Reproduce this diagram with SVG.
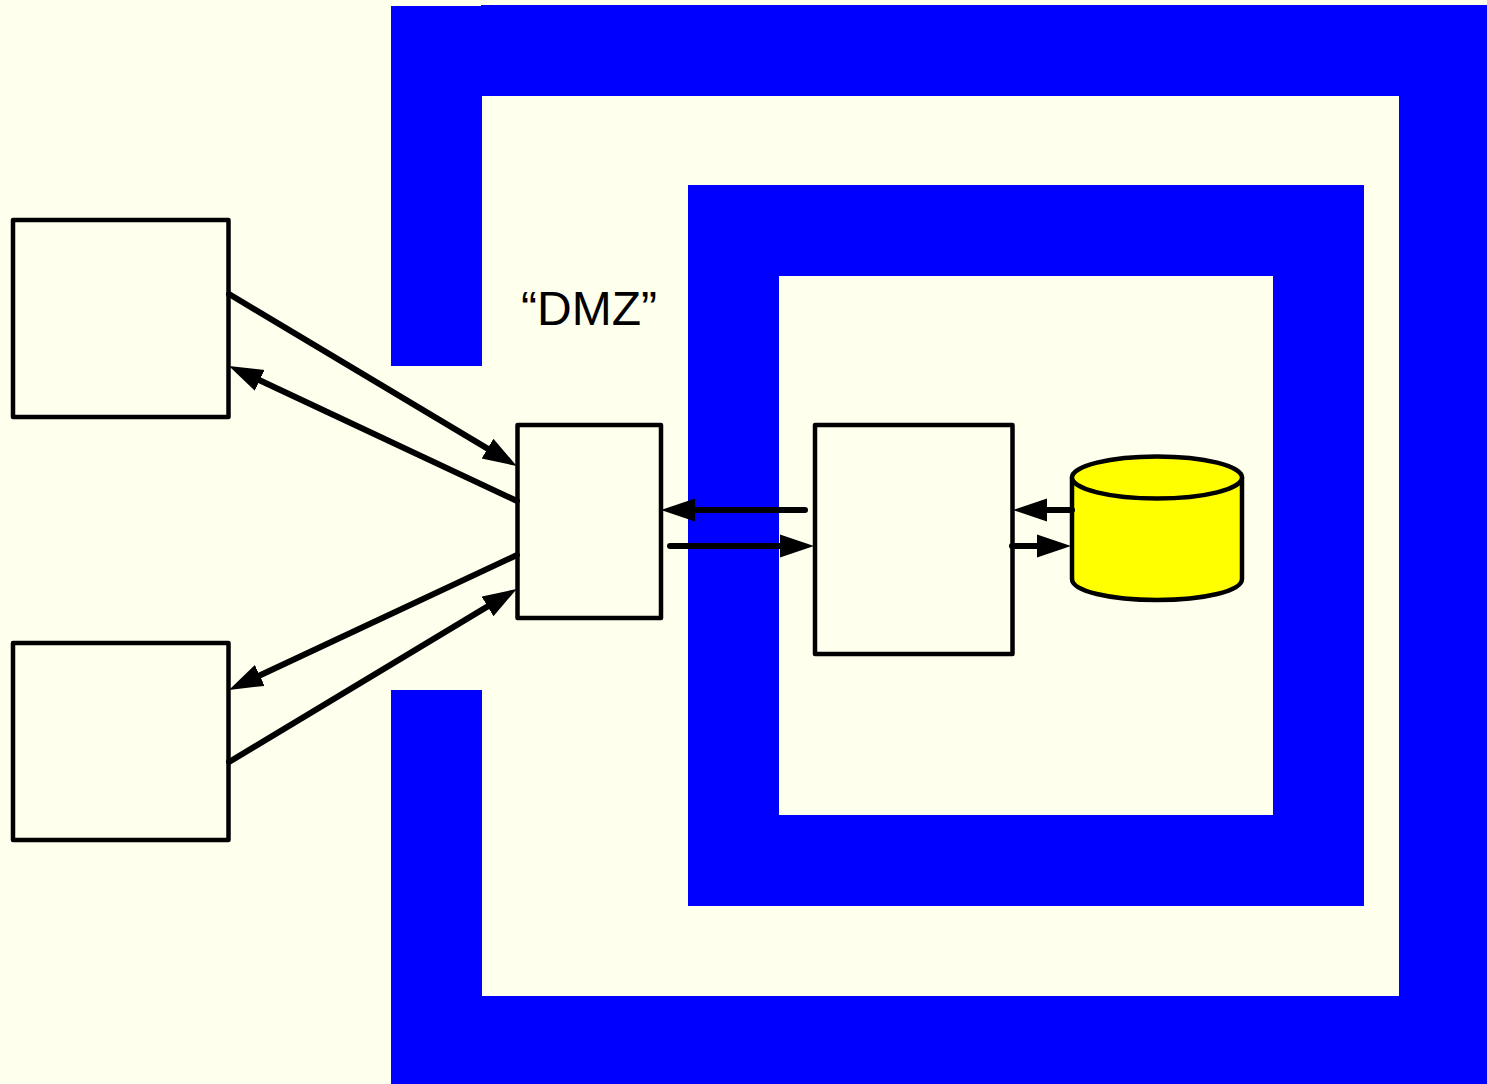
<svg xmlns="http://www.w3.org/2000/svg" width="1487" height="1084" viewBox="0 0 1487 1084">
  <defs>
    <style>
      .zone { fill: #0000ff; }
      .box { fill: #ffffee; stroke: #000; stroke-width: 4.500; stroke-linejoin: round; }
      .db { fill: #ffff00; stroke: #000; stroke-width: 4.500; stroke-linejoin: round; }
      .conn { fill: none; stroke: #000; stroke-width: 6; stroke-linecap: round; marker-end: url(#arrow); }
      .label { font-family: "Liberation Sans", Arial, sans-serif; font-size: 48px; fill: #000; }
    </style>
    <marker id="arrow" markerUnits="userSpaceOnUse" markerWidth="35" markerHeight="25" refX="22" refY="12" orient="auto">
      <path d="M0,0.500 L34,12 L0,23.500 Z" fill="#000"/>
    </marker>
  </defs>
  <rect width="1487" height="1084" fill="#ffffee"/>
  <g id="outer-zone">
    <path class="zone" d="M391,6 H481 V5 H1487 V1084 H391 V690 H482 V996 H1399 V96 H482 V366 H391 Z"/>
  </g>
  <g id="inner-zone">
    <path class="zone" fill-rule="evenodd" d="M688,185 H1364 V906 H688 Z M779,276 V815 H1273 V276 Z"/>
  </g>
  <g id="client-top"><rect class="box" x="13" y="220" width="215.500" height="197"/></g>
  <g id="client-bottom"><rect class="box" x="13" y="643" width="215.500" height="197"/></g>
  <g id="dmz-server"><rect class="box" x="517.500" y="425" width="143.500" height="193"/></g>
  <g id="app-server"><rect class="box" x="815" y="425" width="197.500" height="229"/></g>
  <g id="database">
    <path class="db" d="M1072,477.500 V579 C1072,591 1110,600 1157,600 C1204,600 1242,591 1242,579 V477.500 Z"/>
    <ellipse class="db" cx="1157" cy="477.500" rx="85" ry="21"/>
  </g>
  <text id="dmz-label" class="label" x="521" y="325">“DMZ”</text>
  <g id="connectors">
    <path class="conn" d="M229,294 L506.400,459.900"/>
    <path class="conn" d="M517,501 L239.800,371"/>
    <path class="conn" d="M517,555 L239.800,684.800"/>
    <path class="conn" d="M229,762 L506.400,595.100"/>
    <path class="conn" d="M805,510 H673"/>
    <path class="conn" d="M670,546 H802"/>
    <path class="conn" d="M1072,510 H1025"/>
    <path class="conn" d="M1012,546 H1059"/>
  </g>
</svg>
